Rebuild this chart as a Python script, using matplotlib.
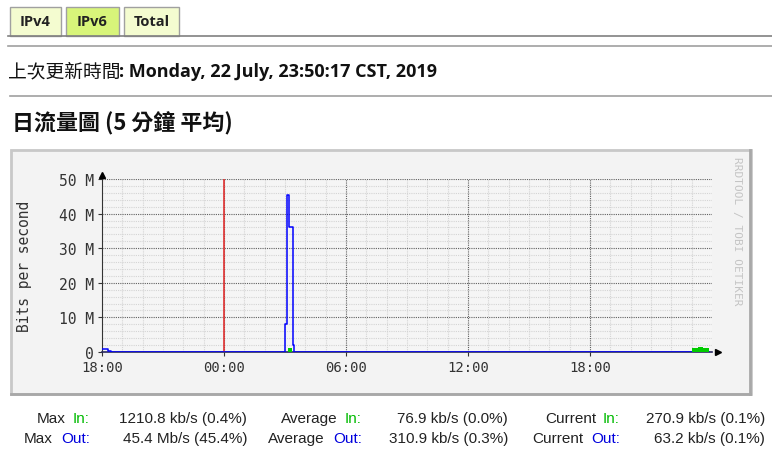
import matplotlib.pyplot as plt
from matplotlib.patches import Rectangle
from matplotlib.lines import Line2D

W, H = 772, 452

# --- data (hours since 18:00 of the previous day, values in Mbit/s) ---
hour_ticks = [0, 6, 12, 18, 24]
hour_labels = ['18:00', '00:00', '06:00', '12:00', '18:00']
y_ticks = [0, 10, 20, 30, 40, 50]
y_labels = ['0', '10 M', '20 M', '30 M', '40 M', '50 M']
midnight = 6

out_t = [0.0, 0.3, 0.42, 9.0, 9.08, 9.2, 9.37, 9.44, 29.83]
out_v = [0.8, 0.35, 0.12, 8.1, 45.4, 36.0, 2.0, 0.12, 0.06]

in_t = [0.0, 9.16, 9.33, 29.0, 29.3, 29.55, 29.83]
in_v = [0.05, 1.2, 0.05, 1.1, 1.35, 1.2, 0.27]

stats_labels = [('Max', 'In:'), ('Average', 'In:'), ('Current', 'In:'),
                ('Max', 'Out:'), ('Average', 'Out:'), ('Current', 'Out:')]
stats_values = ['1210.8 kb/s (0.4%)', '76.9 kb/s (0.0%)', '270.9 kb/s (0.1%)',
                '45.4 Mb/s (45.4%)', '310.9 kb/s (0.3%)', '63.2 kb/s (0.1%)']

CJK = ['Noto Sans CJK TC', 'DejaVu Sans']
SANS = ['Open Sans', 'DejaVu Sans']
NARROW = ['Liberation Sans Narrow', 'Liberation Sans', 'DejaVu Sans']
MONO = ['DejaVu Sans Mono']


def fx(x):
    return x / W


def fy(y):
    return 1 - y / H


fig = plt.figure(figsize=(W / 100, H / 100), dpi=100)
fig.patch.set_facecolor('white')

# tabs
tabs = [('IPv4', 10, 61, '#f4fcd0'), ('IPv6', 66, 119, '#d8f57a'), ('Total', 124, 179, '#f4fcd0')]
for name, x0, x1, col in tabs:
    fig.patches.append(Rectangle((fx(x0), fy(37)), fx(x1 - x0), (37 - 8) / H,
                                 transform=fig.transFigure, facecolor=col,
                                 edgecolor='#a0a0a0', lw=1))
    fig.text(fx((x0 + x1) / 2), fy(22), name, ha='center', va='center',
             fontsize=10.5, fontweight='bold', family=SANS, color='#222222')

for y, x0, c in [(37, 8, '#808080'), (47, 8, '#a0a0a0'), (97, 10, '#a0a0a0')]:
    fig.lines.append(Line2D([fx(x0), 1], [fy(y), fy(y)], transform=fig.transFigure,
                            color=c, lw=1.2))

fig.text(fx(8), fy(72), '上次更新時間', ha='left', va='center', fontsize=13.5,
         family=CJK, color='#111111')
fig.text(fx(119), fy(72), ': Monday, 22 July, 23:50:17 CST, 2019', ha='left',
         va='center', fontsize=13, fontweight='bold', family=SANS, color='#111111')

fig.text(fx(12), fy(124), '日流量圖 (5 分鐘 平均)', ha='left', va='center',
         fontsize=15.8, fontweight='bold', family=CJK, color='#111111')

# graph frame
fig.patches.append(Rectangle((fx(11), fy(395)), fx(740), (395 - 151) / H,
                             transform=fig.transFigure, facecolor='#f3f3f3',
                             edgecolor='#c8c8c8', lw=2, zorder=-2))
fig.lines.append(Line2D([fx(750), fx(750)], [fy(151), fy(395)], transform=fig.transFigure,
                        color='#a8a8a8', lw=2, zorder=-1))
fig.lines.append(Line2D([fx(11), fx(750)], [fy(395), fy(395)], transform=fig.transFigure,
                        color='#a8a8a8', lw=2, zorder=-1))

ax = fig.add_axes([fx(102), fy(353), fx(712 - 102), (353 - 180) / H])
ax.set_zorder(3)
ax.set_facecolor('#f5f5f5')
ax.set_xlim(0, 30.0)
ax.set_ylim(0, 50)

for h in range(0, 30):
    if h % 6:
        ax.axvline(h, color='#d4d4d4', lw=0.8, ls=(0, (1, 1)), zorder=1)
for v in range(2, 50, 2):
    if v % 10:
        ax.axhline(v, color='#d4d4d4', lw=0.8, ls=(0, (1, 1)), zorder=1)
for h in hour_ticks[1:]:
    ax.axvline(h, color='#606060', lw=0.8, ls=(0, (1, 1)), zorder=2)
for v in y_ticks[1:]:
    ax.axhline(v, color='#606060', lw=0.8, ls=(0, (1, 1)), zorder=2)

ax.axvline(midnight, color='#e03030', lw=1.2, zorder=3)

ax.step(out_t, out_v, where='post', color='#0000ff', lw=1.1, zorder=4)
ax.fill_between(in_t, in_v, step='post', color='#00cc00', lw=0, zorder=5)

for s in ['top', 'right']:
    ax.spines[s].set_visible(False)
ax.spines['left'].set_color('#333333')
ax.spines['bottom'].set_color('#2a2a60')
ax.spines['bottom'].set_linewidth(1.2)
ax.plot([0], [51.3], marker='^', color='black', ms=5, clip_on=False, zorder=6)
ax.plot([30.3], [0], marker='>', color='black', ms=5, clip_on=False, zorder=6)

ax.set_xticks(hour_ticks)
ax.set_xticklabels(hour_labels, family=MONO, fontsize=10, color='#333333')
ax.set_yticks(y_ticks)
ax.set_yticklabels(y_labels, family=MONO, fontsize=10.5, color='#333333')
ax.tick_params(axis='both', length=3, color='#333333', pad=3)

fig.text(fx(25), fy(266), 'Bits per second', rotation=90, ha='center', va='center',
         family=MONO, fontsize=10.5, color='#333333')
fig.text(fx(737), fy(231), 'RRDTOOL / TOBI OETIKER', rotation=270, ha='center',
         va='center', family=MONO, fontsize=8, color='#c4c4c4')

# stats below
label_right = [90, 362, 620]
value_right = [247, 508, 765]
rows = [419, 439]
for i, (word, io) in enumerate(stats_labels):
    col, row = i % 3, i // 3
    y = fy(rows[row])
    io_col = '#00bb00' if io == 'In:' else '#0000dd'
    fig.text(fx(label_right[col]), y, io, ha='right', va='center',
             fontsize=11, family=NARROW, color=io_col)
    fig.text(fx(label_right[col] - (24 if io == 'In:' else 37)), y, word,
             ha='right', va='center', fontsize=11, family=NARROW, color='#222222')
    fig.text(fx(value_right[col]), y, stats_values[i], ha='right', va='center',
             fontsize=11, family=NARROW, color='#222222')

fig.savefig('out.png', dpi=100, facecolor='white')
